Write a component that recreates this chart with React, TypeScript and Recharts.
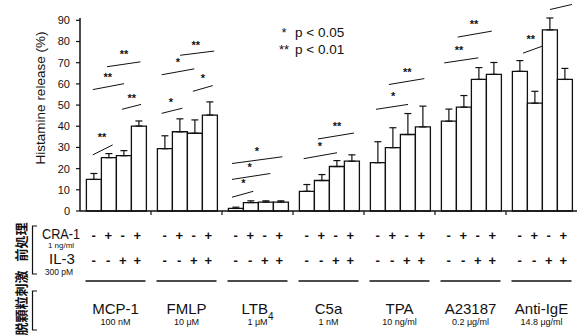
import React from "react";
import {
  ComposedChart,
  Bar,
  XAxis,
  YAxis,
  ErrorBar,
  ReferenceLine,
  ReferenceDot,
} from "recharts";

const groupNames = ["MCP-1", "FMLP", "LTB", "C5a", "TPA", "A23187", "Anti-IgE"];
const groupSubs = ["", "", "4", "", "", "", ""];
const groupDoses = ["100 nM", "10 \u03bcM", "1 \u03bcM", "1 nM", "10 ng/ml", "0.2 \u03bcg/ml", "14.8 \u03bcg/ml"];

const craRow = ["-", "+", "-", "+"];
const il3Row = ["-", "-", "+", "+"];

// histamine release (%), mean and SEM for each pretreatment
const noneMean = [14.9, 29.4, 1.2, 9.3, 22.8, 42.4, 65.9];
const noneSem = [2.8, 6.1, 0.6, 3.2, 9.9, 5.7, 5.1];
const craMean = [25.2, 37.4, 4.0, 14.4, 29.9, 49.0, 50.9];
const craSem = [1.9, 6.1, 0.8, 2.8, 9.4, 5.5, 5.6];
const il3Mean = [26.1, 36.7, 4.2, 21.0, 36.1, 62.1, 85.5];
const il3Sem = [2.4, 6.3, 0.6, 2.8, 9.9, 5.6, 5.6];
const bothMean = [40.1, 45.3, 4.2, 23.5, 39.7, 64.5, 62.1];
const bothSem = [2.4, 6.2, 0.6, 3.0, 9.8, 5.6, 5.2];

const yTicks = [0, 10, 20, 30, 40, 50, 60, 70, 80, 90];

// significance lines: [x1, y1, x2, y2], x in category units (group i spans i..i+1)
const sigLines: [number, number, number, number][] = [
  [0.18, 26.5, 0.46, 31.2],
  [0.18, 57.3, 0.62, 60.1],
  [0.38, 68.1, 0.85, 70.4],
  [0.59, 48.0, 0.86, 50.3],
  [1.15, 46.1, 1.44, 48.5],
  [1.15, 64.3, 1.61, 67.1],
  [1.41, 73.5, 1.89, 75.5],
  [1.59, 56.5, 1.87, 59.2],
  [2.14, 6.5, 2.44, 9.3],
  [2.14, 14.9, 2.68, 17.7],
  [2.14, 22.4, 2.85, 25.6],
  [3.15, 24.7, 3.62, 27.5],
  [3.35, 34.0, 3.86, 36.8],
  [4.17, 48.0, 4.62, 50.3],
  [4.35, 59.7, 4.85, 62.5],
  [5.13, 69.9, 5.61, 72.3],
  [5.32, 82.1, 5.8, 84.9],
  [6.24, 74.5, 6.52, 77.9],
  [6.62, 95.1, 6.93, 97.5],
];
const sigMarks: [number, number, string][] = [
  [0.31, 35.9, "**"],
  [0.39, 64.3, "**"],
  [0.62, 75.1, "**"],
  [0.73, 54.5, "**"],
  [1.28, 52.5, "*"],
  [1.38, 71.3, "*"],
  [1.63, 79.5, "**"],
  [1.73, 63.9, "*"],
  [2.3, 14.0, "*"],
  [2.39, 21.9, "*"],
  [2.49, 29.4, "*"],
  [3.38, 31.7, "*"],
  [3.62, 41.0, "**"],
  [4.41, 55.0, "*"],
  [4.61, 66.5, "**"],
  [5.34, 76.9, "**"],
  [5.55, 89.1, "**"],
  [6.35, 82.1, "**"],
];

const seriesKeys = ["none", "cra", "il3", "both"];

const chartData = groupNames.map((name, i) => ({
  name,
  pos: i + 0.5,
  none: noneMean[i],
  noneErr: [0, noneSem[i]],
  cra: craMean[i],
  craErr: [0, craSem[i]],
  il3: il3Mean[i],
  il3Err: [0, il3Sem[i]],
  both: bothMean[i],
  bothErr: [0, bothSem[i]],
}));

const ink = "#111";
const font = "'Liberation Sans', Arial, sans-serif";

function GroupTick(props: any) {
  const { x, y, payload } = props;
  const i = groupNames.indexOf(payload.value);
  const pitch = 14.5;
  return (
    <g fontFamily={font} fill={ink}>
      {i > 0 && (
        <line x1={x - 35.5} x2={x - 35.5} y1={y} y2={y + 4} stroke={ink} strokeWidth={1.2} />
      )}
      {craRow.map((s, j) => (
        <text key={"c" + j} x={x + (j - 1.5) * pitch} y={y + 24} textAnchor="middle" dominantBaseline="central" fontSize={13} fontWeight="bold">
          {s}
        </text>
      ))}
      {il3Row.map((s, j) => (
        <text key={"i" + j} x={x + (j - 1.5) * pitch} y={y + 49.5} textAnchor="middle" dominantBaseline="central" fontSize={13} fontWeight="bold">
          {s}
        </text>
      ))}
      <line x1={x - 30} x2={x + 30} y1={y + 70} y2={y + 70} stroke={ink} strokeWidth={1.6} />
      <text x={x} y={y + 103} textAnchor="middle" fontSize={15}>
        {groupNames[i]}
        {groupSubs[i] && (
          <tspan baselineShift="sub" fontSize={10}>
            {groupSubs[i]}
          </tspan>
        )}
      </text>
      <text x={x} y={y + 114} textAnchor="middle" fontSize={9}>
        {groupDoses[i]}
      </text>
    </g>
  );
}

function StarMark(props: any) {
  const { cx, cy, mark } = props;
  return (
    <text x={cx} y={cy + 6} textAnchor="middle" fontSize={11} fontWeight="bold" fontFamily={font} fill={ink}>
      {mark}
    </text>
  );
}

export default function App() {
  return (
    <div style={{ position: "absolute", left: 0, top: 0, width: 577, height: 335, background: "#fff" }}>
      <ComposedChart
        width={577}
        height={335}
        data={chartData}
        margin={{ top: 18, right: 0, bottom: 0, left: 0 }}
        barGap={0}
        barCategoryGap="9%"
      >
        <XAxis
          xAxisId="cat"
          dataKey="name"
          height={124}
          interval={0}
          tickLine={false}
          tickSize={0}
          tickMargin={0}
          axisLine={{ stroke: ink, strokeWidth: 1.5 }}
          tick={<GroupTick />}
        />
        <XAxis xAxisId="num" dataKey="pos" type="number" domain={[0, 7]} hide allowDataOverflow />
        <YAxis
          width={80}
          domain={[0, 90]}
          ticks={yTicks}
          interval={0}
          tickSize={4}
          tickMargin={6}
          axisLine={{ stroke: ink, strokeWidth: 1.5 }}
          tickLine={{ stroke: ink, strokeWidth: 1.2 }}
          tick={{ fontSize: 11, fill: ink, fontFamily: font }}
        />
        {seriesKeys.map((k) => (
          <Bar
            key={k}
            xAxisId="cat"
            dataKey={k}
            fill="#fff"
            stroke={ink}
            strokeWidth={1.3}
            isAnimationActive={false}
          >
            <ErrorBar dataKey={k + "Err"} width={3.5} stroke={ink} strokeWidth={1.2} direction="y" isAnimationActive={false} />
          </Bar>
        ))}
        {sigLines.map(([x1, y1, x2, y2], n) => (
          <ReferenceLine
            key={"l" + n}
            xAxisId="num"
            segment={[
              { x: x1, y: y1 },
              { x: x2, y: y2 },
            ]}
            stroke={ink}
            strokeWidth={1}
            ifOverflow="visible"
          />
        ))}
        {sigMarks.map(([x, y, mark], n) => (
          <ReferenceDot
            key={"m" + n}
            xAxisId="num"
            x={x}
            y={y}
            r={1}
            ifOverflow="visible"
            shape={(p: any) => <StarMark {...p} mark={mark} />}
          />
        ))}
      </ComposedChart>
      <svg
        width={577}
        height={335}
        style={{ position: "absolute", left: 0, top: 0, pointerEvents: "none" }}
        fontFamily={font}
        fill={ink}
      >
        <text transform="translate(40,98) rotate(-90)" textAnchor="middle" dominantBaseline="central" fontSize={13.5}>
          Histamine release (%)
        </text>
        <text x={284} y={37} textAnchor="middle" fontSize={13}>*</text>
        <text x={295} y={37} fontSize={13.5}>p &lt; 0.05</text>
        <text x={284} y={54} textAnchor="middle" fontSize={13}>**</text>
        <text x={295} y={54} fontSize={13.5}>p &lt; 0.01</text>

        <text x={61} y={239} textAnchor="middle" fontSize={14} textLength={38} lengthAdjust="spacingAndGlyphs">CRA-1</text>
        <text x={61} y={248} textAnchor="middle" fontSize={8}>1 ng/ml</text>
        <text x={62} y={264} textAnchor="middle" fontSize={15}>IL-3</text>
        <text x={59} y={275} textAnchor="middle" fontSize={8.5}>300 pM</text>

        <path d="M37 226 H32.5 V274 H37" fill="none" stroke={ink} strokeWidth={1.2} />
        <path d="M37 291 H32.5 V330 H37" fill="none" stroke={ink} strokeWidth={1.2} />
        <text
          transform="translate(20,242) rotate(-90)"
          textAnchor="middle"
          dominantBaseline="central"
          fontSize={13}
          fontWeight="bold"
          fontFamily="'Noto Sans CJK JP', sans-serif"
        >
          前処理
        </text>
        <text
          transform="translate(20,303) rotate(-90)"
          textAnchor="middle"
          dominantBaseline="central"
          fontSize={13}
          fontWeight="bold"
          fontFamily="'Noto Sans CJK JP', sans-serif"
        >
          脱顆粒刺激
        </text>
      </svg>
    </div>
  );
}
